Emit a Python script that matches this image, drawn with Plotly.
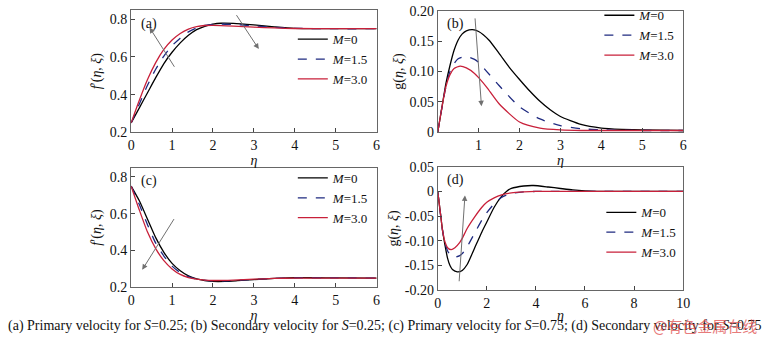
import plotly.graph_objects as go

# ---------------- data ----------------
# (a) primary velocity S=0.25
eta_a0 = [0, 0.2, 0.4, 0.6, 0.8, 1.0, 1.2, 1.4, 1.6, 1.8, 2.0, 2.2, 2.5, 3.0, 3.5, 4.0, 5.0, 6.0]
fa_M0 = [0.25, 0.33, 0.41, 0.49, 0.565, 0.625, 0.675, 0.715, 0.745, 0.763, 0.774, 0.779, 0.778, 0.770, 0.760, 0.752, 0.750, 0.750]
eta_a1 = [0, 0.2, 0.4, 0.6, 0.8, 1.0, 1.2, 1.4, 1.6, 1.8, 2.0, 2.2, 2.5, 3.0, 3.5, 4.0, 5.0, 6.0]
fa_M15 = [0.25, 0.35, 0.45, 0.535, 0.605, 0.66, 0.70, 0.733, 0.754, 0.767, 0.773, 0.775, 0.772, 0.765, 0.757, 0.752, 0.750, 0.750]
eta_a2 = [0, 0.2, 0.4, 0.6, 0.8, 1.0, 1.2, 1.4, 1.6, 1.8, 2.0, 2.5, 3.0, 3.5, 4.0, 5.0, 6.0]
fa_M3 = [0.25, 0.37, 0.48, 0.57, 0.64, 0.69, 0.725, 0.748, 0.761, 0.767, 0.768, 0.764, 0.758, 0.754, 0.751, 0.750, 0.750]

# (b) secondary velocity S=0.25
eta_b0 = [0, 0.1, 0.2, 0.3, 0.4, 0.5, 0.6, 0.7, 0.85, 1.0, 1.25, 1.5, 1.75, 2.0, 2.25, 2.5, 2.75, 3.0, 3.5, 4.0, 4.5, 5.0, 6.0]
gb_M0 = [0, 0.04, 0.08, 0.11, 0.135, 0.152, 0.162, 0.167, 0.169, 0.166, 0.152, 0.130, 0.107, 0.087, 0.068, 0.051, 0.037, 0.026, 0.013, 0.007, 0.005, 0.004, 0.003]
eta_b1 = [0, 0.1, 0.2, 0.3, 0.4, 0.5, 0.7, 0.9, 1.0, 1.2, 1.5, 2.0, 2.5, 3.0, 3.5, 4.0, 5.0, 6.0]
gb_M15 = [0, 0.04, 0.075, 0.10, 0.113, 0.121, 0.125, 0.12, 0.115, 0.10, 0.077, 0.042, 0.022, 0.011, 0.006, 0.004, 0.003, 0.003]
eta_b2 = [0, 0.1, 0.2, 0.3, 0.4, 0.55, 0.7, 0.9, 1.0, 1.2, 1.5, 2.0, 2.5, 3.0, 3.5, 4.0, 5.0, 6.0]
gb_M3 = [0, 0.04, 0.075, 0.095, 0.105, 0.109, 0.106, 0.097, 0.09, 0.074, 0.047, 0.017, 0.007, 0.004, 0.003, 0.003, 0.003, 0.003]

# (c) primary velocity S=0.75
eta_c0 = [0, 0.2, 0.4, 0.6, 0.8, 1.0, 1.2, 1.4, 1.6, 1.8, 2.0, 2.3, 2.6, 3.0, 3.5, 4.0, 4.5, 5.0, 6.0]
fc_M0 = [0.75, 0.67, 0.57, 0.47, 0.39, 0.33, 0.29, 0.262, 0.246, 0.237, 0.232, 0.232, 0.236, 0.242, 0.248, 0.252, 0.252, 0.251, 0.250]
eta_c1 = [0, 0.2, 0.4, 0.6, 0.8, 1.0, 1.2, 1.4, 1.6, 1.8, 2.0, 2.3, 2.6, 3.0, 3.5, 4.0, 5.0, 6.0]
fc_M15 = [0.75, 0.65, 0.54, 0.44, 0.37, 0.315, 0.28, 0.258, 0.244, 0.238, 0.235, 0.235, 0.238, 0.243, 0.248, 0.251, 0.251, 0.250]
eta_c2 = [0, 0.2, 0.4, 0.6, 0.8, 1.0, 1.2, 1.4, 1.6, 1.8, 2.0, 2.5, 3.0, 3.5, 4.0, 5.0, 6.0]
fc_M3 = [0.75, 0.62, 0.50, 0.41, 0.345, 0.30, 0.27, 0.253, 0.244, 0.239, 0.237, 0.239, 0.244, 0.248, 0.250, 0.250, 0.250]

# (d) secondary velocity S=0.75
eta_d0 = [0, 0.1, 0.2, 0.3, 0.4, 0.5, 0.6, 0.8, 1.0, 1.2, 1.5, 1.8, 2.0, 2.3, 2.6, 2.8, 3.0, 3.5, 3.9, 4.5, 5.0, 5.5, 6.0, 6.5, 7.0, 10.0]
gd_M0 = [0, -0.04, -0.08, -0.11, -0.135, -0.15, -0.158, -0.163, -0.16, -0.148, -0.115, -0.082, -0.062, -0.032, -0.010, 0.0, 0.006, 0.011, 0.012, 0.009, 0.006, 0.003, 0.001, 0.0, 0.0, 0.0]
eta_d1 = [0, 0.1, 0.2, 0.3, 0.4, 0.5, 0.7, 0.9, 1.0, 1.2, 1.5, 1.8, 2.0, 2.3, 2.6, 3.0, 3.5, 4.0, 10.0]
gd_M15 = [0, -0.04, -0.08, -0.105, -0.12, -0.128, -0.133, -0.13, -0.126, -0.112, -0.085, -0.058, -0.043, -0.025, -0.012, -0.004, -0.001, 0.0, 0.0]
eta_d2 = [0, 0.1, 0.2, 0.3, 0.4, 0.55, 0.7, 0.9, 1.0, 1.2, 1.5, 1.8, 2.0, 2.3, 2.6, 3.0, 3.5, 4.0, 10.0]
gd_M3 = [0, -0.04, -0.08, -0.103, -0.114, -0.118, -0.114, -0.103, -0.095, -0.075, -0.052, -0.032, -0.022, -0.013, -0.007, -0.003, -0.001, 0.0, 0.0]

series_names = ["<i>M</i>=0", "<i>M</i>=1.5", "<i>M</i>=3.0"]
caption = ("(a) Primary velocity for <i>S</i>=0.25; (b) Secondary velocity for <i>S</i>=0.25; "
           "(c) Primary velocity for <i>S</i>=0.75; (d) Secondary velocity for <i>S</i>=0.75")
watermark = "@有色金属在线"

# ---------------- styling ----------------
FONT = "Liberation Serif"
COL = ["#000000", "#1f2a80", "#c8203a"]
DASH = ["solid", "dash", "solid"]
W = 770
H = 346

def dom_x(l, r):
    return [l / W, r / W]

def dom_y(t, b):
    return [1 - b / H, 1 - t / H]

fig = go.Figure()

panels = [
    ("x", "y", "legend", [(eta_a0, fa_M0), (eta_a1, fa_M15), (eta_a2, fa_M3)]),
    ("x2", "y2", "legend2", [(eta_b0, gb_M0), (eta_b1, gb_M15), (eta_b2, gb_M3)]),
    ("x3", "y3", "legend3", [(eta_c0, fc_M0), (eta_c1, fc_M15), (eta_c2, fc_M3)]),
    ("x4", "y4", "legend4", [(eta_d0, gd_M0), (eta_d1, gd_M15), (eta_d2, gd_M3)]),
]
for xa, ya, lg, curves in panels:
    for i, (xs, ys) in enumerate(curves):
        fig.add_trace(go.Scatter(
            x=xs, y=ys, mode="lines", name=series_names[i],
            line=dict(color=COL[i], width=1.3, dash=DASH[i], shape="spline", smoothing=0.6),
            xaxis=xa, yaxis=ya, legend=lg))

axis_common = dict(showline=True, mirror=True, linecolor="#666666", linewidth=1,
                   ticks="inside", ticklen=4, tickcolor="#444444", showgrid=False,
                   zeroline=False, tickfont=dict(family=FONT, size=14, color="#111"))

xt = dict(text="<i>η</i>", font=dict(family=FONT, size=14, color="#111"), standoff=0)
ytf = dict(family=FONT, size=14, color="#111")

layout = dict(
    width=W, height=H, margin=dict(l=0, r=0, t=0, b=0),
    paper_bgcolor="white", plot_bgcolor="white",
    font=dict(family=FONT, size=14, color="#111"),
    xaxis=dict(axis_common, domain=dom_x(129, 378), range=[0, 6], tickvals=[0, 1, 2, 3, 4, 5, 6],
               title=xt, anchor="y"),
    yaxis=dict(axis_common, domain=dom_y(3, 131), range=[0.2, 0.85], tickvals=[0.2, 0.4, 0.6, 0.8],
               ticktext=["0.2", "0.4", "0.6", "0.8"],
               title=dict(text="<i>f</i>′(<i>η</i>, <i>ξ</i>)", font=ytf, standoff=4),
               anchor="x"),
    xaxis2=dict(axis_common, domain=dom_x(440, 689), range=[0, 6], tickvals=[1, 2, 3, 4, 5, 6],
                title=xt, anchor="y2"),
    yaxis2=dict(axis_common, domain=dom_y(4, 131), range=[0, 0.2], tickvals=[0, 0.05, 0.10, 0.15, 0.20],
                ticktext=["0", "0.05", "0.10", "0.15", "0.20"],
                title=dict(text="g(<i>η</i>, <i>ξ</i>)", font=ytf, standoff=2),
                anchor="x2"),
    xaxis3=dict(axis_common, domain=dom_x(129, 378), range=[0, 6], tickvals=[0, 1, 2, 3, 4, 5, 6],
                title=xt, anchor="y3"),
    yaxis3=dict(axis_common, domain=dom_y(168, 293), range=[0.2, 0.85], tickvals=[0.2, 0.4, 0.6, 0.8],
                ticktext=["0.2", "0.4", "0.6", "0.8"],
                title=dict(text="<i>f</i>′(<i>η</i>, <i>ξ</i>)", font=ytf, standoff=4),
                anchor="x3"),
    xaxis4=dict(axis_common, domain=dom_x(440, 689), range=[0, 10], tickvals=[0, 2, 4, 6, 8, 10],
                title=xt, anchor="y4"),
    yaxis4=dict(axis_common, domain=dom_y(167, 296), range=[-0.2, 0.05],
                tickvals=[-0.20, -0.15, -0.10, -0.05, 0, 0.05],
                ticktext=["-0.20", "-0.15", "-0.10", "-0.05", "0", "0.05"],
                title=dict(text="g(<i>η</i>, <i>ξ</i>)", font=ytf, standoff=2),
                anchor="x4"),
)

leg_common = dict(bgcolor="rgba(0,0,0,0)", borderwidth=0, font=dict(family=FONT, size=13, color="#111"),
                  itemwidth=30, xanchor="left", yanchor="top", tracegroupgap=0)
layout["legend"] = dict(leg_common, x=293 / W, y=1 - 18 / H)
layout["legend2"] = dict(leg_common, x=604 / W, y=1 + 7 / H)
layout["legend3"] = dict(leg_common, x=293 / W, y=1 - 163 / H)
layout["legend4"] = dict(leg_common, x=606 / W, y=1 - 199 / H)
fig.update_layout(**layout)

# panel labels
for lab, xr in [("(a)", "x"), ("(b)", "x2"), ("(c)", "x3"), ("(d)", "x4")]:
    fig.add_annotation(text=lab, xref=xr + " domain", yref=(xr.replace("x", "y")) + " domain",
                       x=0.03, y=0.97, xanchor="left", yanchor="top", showarrow=False,
                       font=dict(family=FONT, size=14, color="#111"))

# trend arrows (tail -> head)
arrows = [
    ("x", "y", 1.08, 0.54, 0.45, 0.756),
    ("x", "y", 2.55, 0.83, 3.12, 0.642),
    ("x2", "y2", 0.91, 0.19, 1.07, 0.043),
    ("x3", "y3", 1.07, 0.579, 0.27, 0.295),
    ("x4", "y4", 0.87, -0.185, 1.11, -0.008),
]
for xr, yr, tx, ty, hx, hy in arrows:
    fig.add_annotation(x=hx, y=hy, ax=tx, ay=ty, xref=xr, yref=yr, axref=xr, ayref=yr,
                       text="", showarrow=True, arrowhead=2, arrowsize=1.1, arrowwidth=1,
                       arrowcolor="#707070")

fig.add_annotation(text=caption, xref="paper", yref="paper", x=2 / W, y=1 - 333 / H,
                   xanchor="left", yanchor="middle", showarrow=False,
                   font=dict(family=FONT, size=14, color="#111"))
fig.add_annotation(text=watermark, xref="paper", yref="paper", x=656 / W, y=1 - 333 / H,
                   xanchor="left", yanchor="middle", showarrow=False, opacity=0.75,
                   font=dict(family="Noto Sans CJK SC", size=15, color="#e05050"))

fig.write_html("out.html")
